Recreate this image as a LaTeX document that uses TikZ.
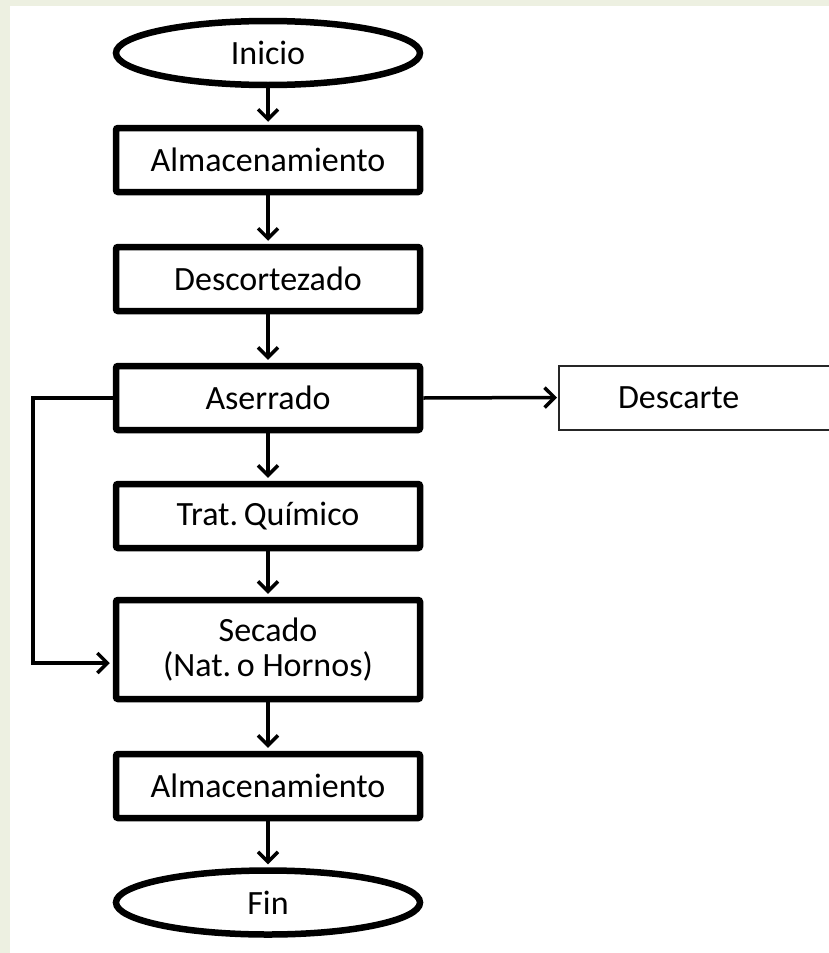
\documentclass[tikz,border=0pt]{standalone}
\usepackage{fontspec}
\setmainfont{Carlito}
\usetikzlibrary{shapes.geometric,arrows.meta,calc}
\definecolor{pagebg}{RGB}{237,240,225}
\begin{document}
\frenchspacing
\begin{tikzpicture}[x=1pt,y=-1pt,
  every node/.style={font=\fontsize{34}{35}\selectfont, text=black},
  procbox/.style={draw, line width=6.5pt, rounded corners=2pt, minimum width=304pt,
    minimum height=64pt, inner sep=0pt, align=center, fill=white},
  terminal/.style={draw, ellipse, line width=6.5pt, minimum width=304pt,
    minimum height=64pt, inner sep=0pt, fill=white},
  thinbox/.style={draw=black!85, line width=2pt, minimum height=64pt, inner xsep=0pt,
    text width=300pt, align=left, fill=white},
  flow/.style={line width=3.5pt, -{Straight Barb[length=10pt,width=20pt]}, shorten >=3pt}
  ]
  % page and white sheet
  \useasboundingbox (0,0) rectangle (829,953);
  \fill[pagebg] (0,0) rectangle (829,953);
  \fill[white] (10,6) rectangle (829,953);

  % main column
  \node[terminal] (inicio) at (268,53)    {Inicio};
  \node[procbox]  (alm1)   at (268,160)   {Almacenamiento};
  \node[procbox]  (desc)   at (268,279)   {Descortezado};
  \node[procbox]  (aserr)  at (268,398)   {Aserrado};
  \node[procbox]  (trat)   at (268,516)   {Trat.\,Químico};
  \node[procbox, minimum height=99pt] (secado) at (268,649.5) {Secado\\(Nat.\,o Hornos)};
  \node[procbox]  (alm2)   at (268,786)   {Almacenamiento};
  \node[terminal] (fin)    at (268,902.5) {Fin};

  % side box, running off the sheet
  \begin{scope}
    \clip (0,0) rectangle (829,953);
    \node[thinbox, anchor=west] (descarte) at (558,397.5) {\hspace*{59pt}Descarte};
  \end{scope}

  % connectors
  \draw[flow] (inicio) -- (alm1);
  \draw[flow] (alm1) -- (desc);
  \draw[flow] (desc) -- (aserr);
  \draw[flow] (aserr) -- (trat);
  \draw[flow] (trat) -- (secado);
  \draw[flow] (secado) -- (alm2);
  \draw[flow] (alm2) -- (fin);
  \draw[flow, shorten >=1pt] (aserr.east) -- (descarte.west);
  \coordinate (bypass) at (33,398);
  \draw[flow] (aserr.west) -- (bypass) |- ($(secado.west)+(0,13.5)$);
\end{tikzpicture}
\end{document}
